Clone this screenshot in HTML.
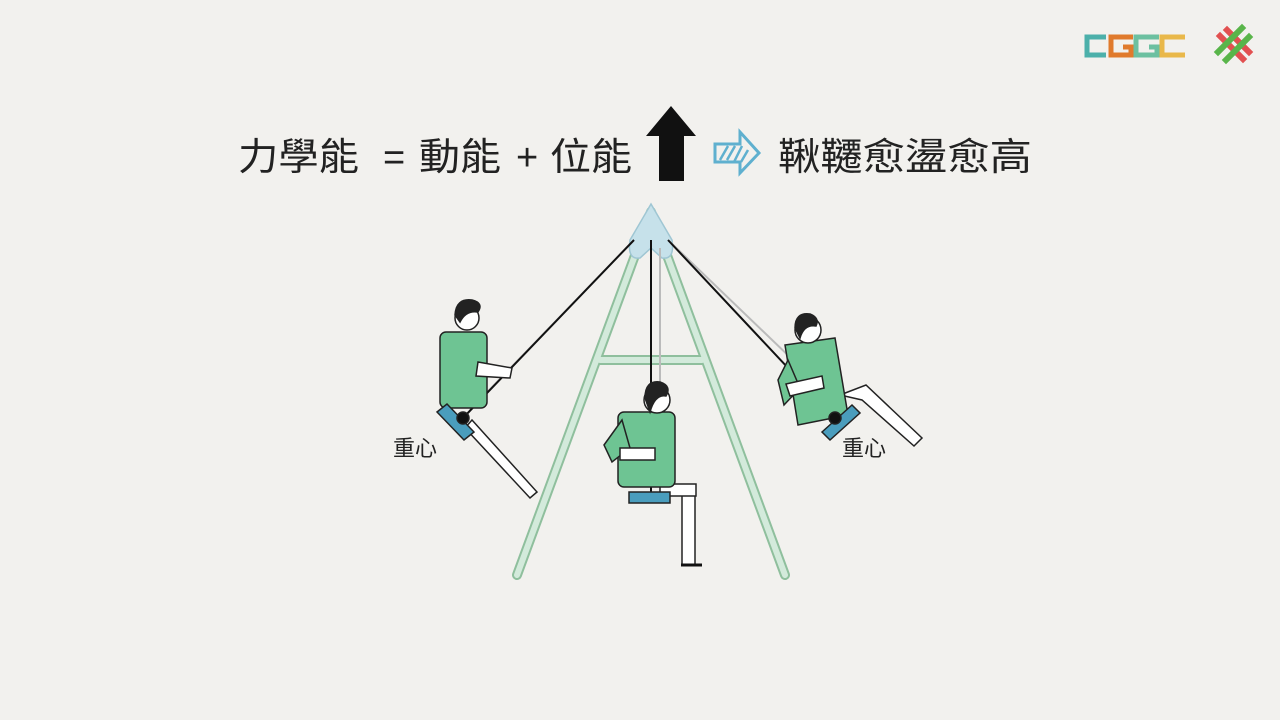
<!DOCTYPE html>
<html><head><meta charset="utf-8"><style>
html,body{margin:0;padding:0;background:#f2f1ee;width:1280px;height:720px;overflow:hidden}
svg{display:block}
text{font-family:"Liberation Sans","Noto Sans CJK TC",sans-serif;fill:#222}
</style></head><body>
<svg width="1280" height="720" viewBox="0 0 1280 720">
<rect width="1280" height="720" fill="#f2f1ee"/>
<!-- logos -->
<g fill="none" stroke-width="5">
<path d="M1106 37H1087V55H1106" stroke="#4cb0aa"/>
<path d="M1133 37H1111V55H1131V47H1123" stroke="#e07a2c"/>
<path d="M1159 37H1136V55H1157V47H1149" stroke="#6cc0a0"/>
<path d="M1185 37H1162V55H1185" stroke="#e9b84a"/>
</g>
<g stroke-width="6" stroke-linecap="square">
<path d="M1220 36L1243 59M1227 30L1249 52" stroke="#e25050"/>
<path d="M1218 52L1242 28M1226 60L1249 37" stroke="#59b54a"/>
</g>
<!-- title -->
<g font-size="38">
<text x="238" y="170" textLength="121" lengthAdjust="spacingAndGlyphs">力學能</text>
<text x="383" y="170">=</text>
<text x="419" y="170" textLength="82" lengthAdjust="spacingAndGlyphs">動能</text>
<text x="516" y="170">+</text>
<text x="550" y="170" textLength="82" lengthAdjust="spacingAndGlyphs">位能</text>
</g>
<path d="M671 106L696 136H684V181H659V136H646Z" fill="#111"/>
<g>
<path d="M715 144H740V132L759 153L740 173V162H715Z" fill="none" stroke="#5fb0cf" stroke-width="3"/>
<path d="M720 160L728 146M727 160L735 146M734 162L742 146M741 162L748 150" stroke="#5fb0cf" stroke-width="2.5"/>
</g>
<text x="778" y="170" font-size="38" textLength="254" lengthAdjust="spacingAndGlyphs">鞦韆愈盪愈高</text>
<!-- frame -->
<g stroke-linecap="round">
<path d="M651 212L517 575M651 212L785 575M600 360H702" stroke="#8fbf9d" stroke-width="10"/>
<path d="M651 212L517 575M651 212L785 575M600 360H702" stroke="#d3eadb" stroke-width="6"/>
</g>
<path d="M651 204L672 240Q675 260 662 258L651 248L640 258Q627 260 630 240Z" fill="#c6e1ea" stroke="#9fc6d3" stroke-width="1.5"/>
<!-- ropes -->
<g stroke-width="2">
<path d="M634 240L470 410" stroke="#bbb"/>
<path d="M634 240L463 418" stroke="#111"/>
<path d="M668 240L845 410" stroke="#bbb"/>
<path d="M668 240L835 418" stroke="#111"/>
<path d="M660 248L660 470" stroke="#bbb"/>
<path d="M651 240L651 498" stroke="#111"/>
</g>
<!-- left person -->
<g stroke="#222" stroke-width="1.5">
<path d="M472 420L537 492L530 498L465 428Z" fill="#fff"/>
<rect x="440" y="332" width="47" height="76" rx="6" fill="#6ec493"/>
<path d="M478 362L512 368L510 378L476 376Z" fill="#fff"/>
<circle cx="467" cy="318" r="12" fill="#fff"/>
<path d="M455 315Q456 298 472 300Q484 303 478 312Q466 310 460 322Z" fill="#222"/>
<path d="M437 412L447 404L474 432L464 440Z" fill="#4a9dbd"/>
<circle cx="463" cy="418" r="6" fill="#111"/>
</g>
<!-- middle person -->
<g stroke="#222" stroke-width="1.5">
<rect x="682" y="490" width="13" height="75" fill="#fff"/>
<path d="M660 484H696V496H660Z" fill="#fff"/>
<rect x="618" y="412" width="57" height="75" rx="6" fill="#6ec493"/>
<path d="M604 445L622 420L630 448L612 462Z" fill="#6ec493"/>
<path d="M620 448H655V460H620Z" fill="#fff"/>
<circle cx="657" cy="400" r="13" fill="#fff"/>
<path d="M645 398Q645 380 660 382Q672 386 666 396Q655 394 650 412Z" fill="#222"/>
<rect x="629" y="492" width="41" height="11" fill="#4a9dbd"/>
<path d="M681 565H702" stroke="#111" stroke-width="3"/>
</g>
<!-- right person -->
<g stroke="#222" stroke-width="1.5">
<path d="M840 395L866 385L922 438L914 446L862 400Z" fill="#fff"/>
<path d="M785 345L835 338L848 415L798 425Z" fill="#6ec493"/>
<path d="M778 380L788 360L800 388L784 405Z" fill="#6ec493"/>
<path d="M786 384L822 376L824 388L790 396Z" fill="#fff"/>
<circle cx="808" cy="330" r="13" fill="#fff"/>
<path d="M795 328Q795 312 810 314Q820 318 816 326Q804 324 800 338Z" fill="#222"/>
<path d="M822 432L852 405L860 413L830 440Z" fill="#4a9dbd"/>
<circle cx="835" cy="418" r="6" fill="#111"/>
</g>
<text x="393" y="456" font-size="22">重心</text>
<text x="842" y="456" font-size="22">重心</text>
</svg>
</body></html>
